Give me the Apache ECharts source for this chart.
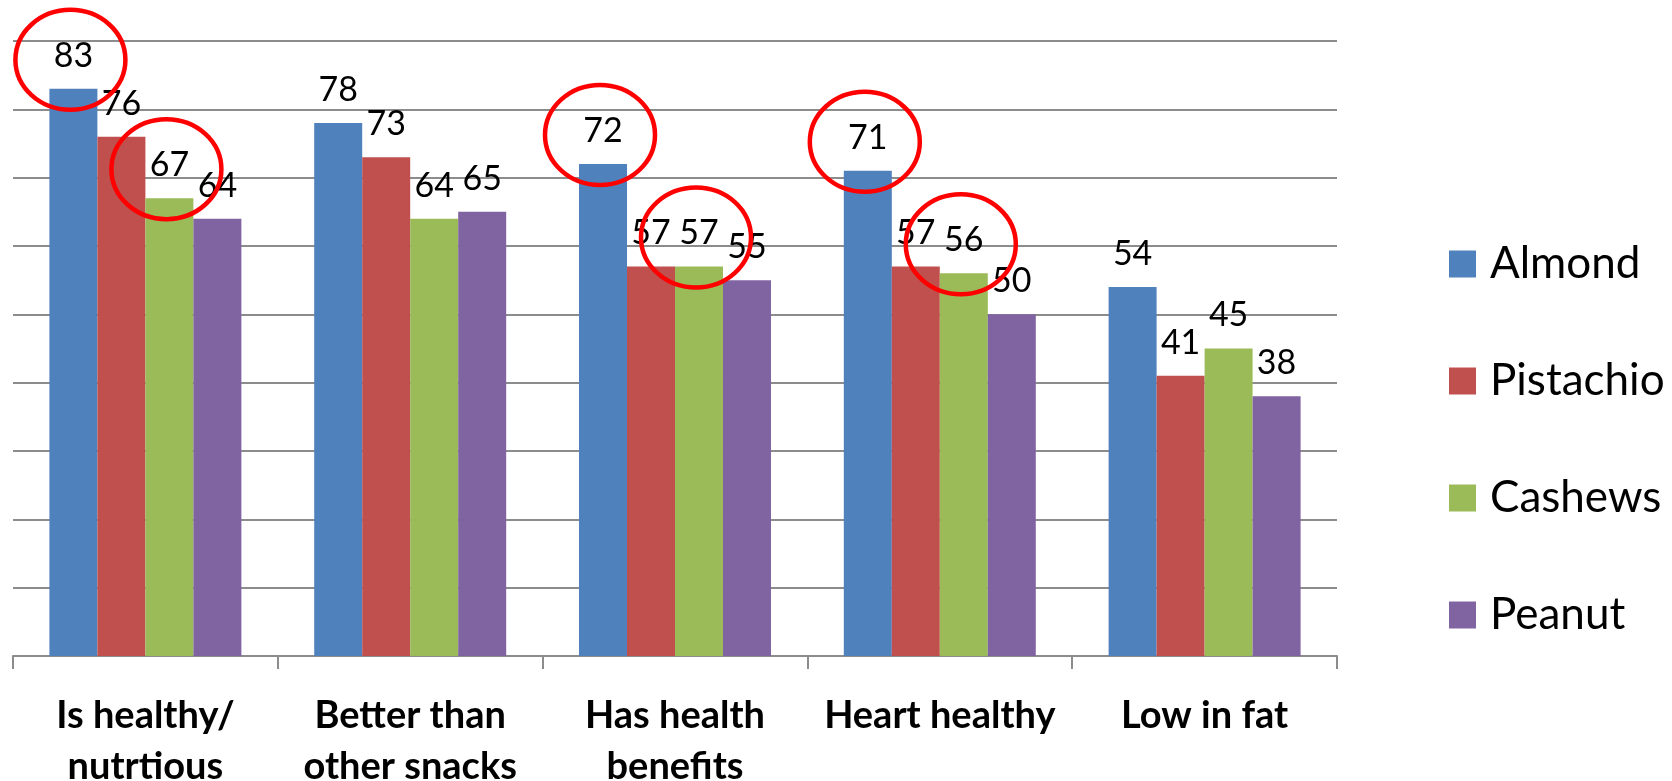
<!DOCTYPE html>
<html>
<head>
<meta charset="utf-8">
<script src="https://cdn.jsdelivr.net/npm/echarts@6/dist/echarts.min.js"></script>
<style>
  html, body { margin: 0; padding: 0; background: #ffffff; }
  #chart { width: 1672px; height: 781px; }
</style>
</head>
<body>
<div id="chart"></div>
<script>
// Survey: share of respondents agreeing with each statement, by nut
const categories = ['Is healthy/\nnutrtious', 'Better than\nother snacks', 'Has health\nbenefits', 'Heart healthy', 'Low in fat'];
const seriesNames = ['Almond', 'Pistachio', 'Cashews', 'Peanut'];
const almond    = [83, 78, 72, 71, 54];
const pistachio = [76, 73, 57, 57, 41];
const cashews   = [67, 64, 57, 56, 45];
const peanut    = [64, 65, 55, 50, 38];
const valueMin = 0;
const valueMax = 90;
const valueStep = 10;
// highlighted values: [series index, category index]
const circled = [[0, 0], [2, 0], [0, 2], [2, 2], [0, 3], [2, 3]];

const seriesValues = [almond, pistachio, cashews, peanut];
const colors = ['#4F81BD', '#C0504D', '#9BBB59', '#8064A2'];
const FONT = 'Lato, "Open Sans", sans-serif';

const chart = echarts.init(document.getElementById('chart'), null, { renderer: 'canvas' });

chart.setOption({
  animation: false,
  backgroundColor: '#ffffff',
  color: colors,
  grid: { left: 13, right: 335, top: 41, bottom: 125, containLabel: false, outerBoundsMode: 'none' },
  legend: {
    orient: 'vertical',
    left: 1444,
    top: 237,
    icon: 'rect',
    itemWidth: 27,
    itemHeight: 27,
    itemGap: 73,
    data: seriesNames,
    textStyle: { fontFamily: FONT, fontSize: 44, lineHeight: 41, color: '#000000', padding: [0, 0, 0, 9] },
    selectedMode: false
  },
  xAxis: {
    type: 'category',
    data: categories,
    boundaryGap: true,
    axisLine: { show: true, lineStyle: { color: '#8c8c8c', width: 2 } },
    axisTick: { show: true, length: 13, lineStyle: { color: '#8c8c8c', width: 2 } },
    axisLabel: {
      fontFamily: FONT, fontWeight: 'bold', fontSize: 38, lineHeight: 51,
      color: '#000000', margin: 34, interval: 0
    },
    splitLine: { show: false }
  },
  yAxis: {
    type: 'value',
    min: valueMin,
    max: valueMax,
    interval: valueStep,
    axisLine: { show: false },
    axisTick: { show: false },
    axisLabel: { show: false },
    splitLine: { show: true, lineStyle: { color: '#8c8c8c', width: 2 } }
  },
  series: seriesNames.map((name, i) => ({
    name: name,
    type: 'bar',
    data: seriesValues[i],
    barGap: '0%',
    barCategoryGap: '27.5%',
    itemStyle: { color: colors[i] },
    label: {
      show: true,
      position: 'top',
      distance: 16,
      fontFamily: FONT,
      fontSize: 34,
      lineHeight: 34,
      color: '#000000'
    }
  }))
});

// Red ellipses around the highlighted values, anchored to each bar's top
const ellipses = circled.map(([s, c]) => {
  const layout = chart.getModel().getSeriesByIndex(s).getData().getItemLayout(c);
  const cx = layout.x + layout.width / 2 - 3;
  const top = Math.min(layout.y, layout.y + layout.height);
  return {
    type: 'ellipse',
    shape: { cx: cx, cy: top - 29, rx: 55, ry: 50 },
    style: { fill: 'none', stroke: '#ff0000', lineWidth: 4.5 },
    z: 100
  };
});
chart.setOption({ graphic: ellipses });
</script>
</body>
</html>
